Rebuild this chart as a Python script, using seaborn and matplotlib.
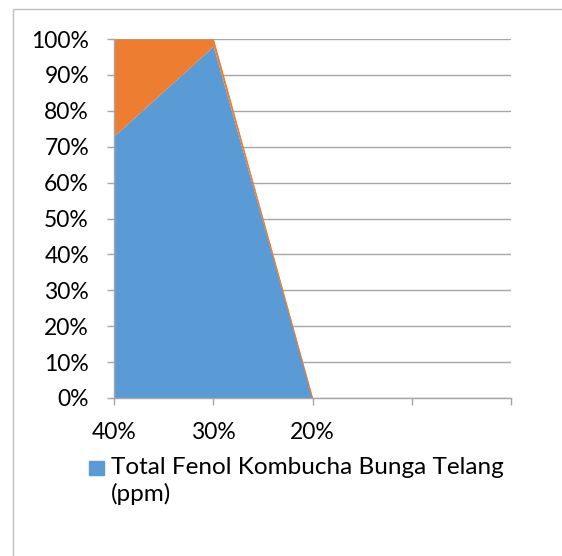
import matplotlib
matplotlib.use("Agg")
import matplotlib.pyplot as plt
from matplotlib.patches import Rectangle
import numpy as np
import pandas as pd
import seaborn as sns

# Category axis (concentration) and the two stacked series
categories = ["40%", "30%", "20%", "", ""]
total_fenol = [73, 98, 0, 0, 0]
second_series = [27, 2, 0, 0, 0]
legend_label = "Total Fenol Kombucha Bunga Telang"
legend_unit = "(ppm)"
y_ticks = [0, 10, 20, 30, 40, 50, 60, 70, 80, 90, 100]

BLUE = "#5B9BD5"
ORANGE = "#ED7D31"
GRID = "#A6A6A6"

sns.set_theme(style="white")
plt.rcParams["font.family"] = ["Lato", "DejaVu Sans"]

df = pd.DataFrame({"cat": categories, "fenol": total_fenol, "other": second_series})
totals = df[["fenol", "other"]].sum(axis=1).replace(0, np.nan)
df["fenol_pct"] = (df["fenol"] / totals * 100).fillna(0)
df["other_pct"] = (df["other"] / totals * 100).fillna(0)
df["top_pct"] = df["fenol_pct"] + df["other_pct"]
df["x"] = np.arange(len(df))

fig = plt.figure(figsize=(5.62, 5.56), dpi=100)
W, H = 562, 556
ax = fig.add_axes([114 / W, 1 - 398 / H, (511 - 114) / W, (398 - 39) / H])

ax.fill_between(df["x"], 0, df["fenol_pct"], color=BLUE, linewidth=0, zorder=2)
ax.fill_between(df["x"], df["fenol_pct"], df["top_pct"], color=ORANGE,
                linewidth=0, zorder=2)
# thin orange edge where the upper band has zero height
sns.lineplot(x=df["x"].iloc[1:3], y=df["top_pct"].iloc[1:3], ax=ax,
             color=ORANGE, linewidth=0.8, zorder=3)

ax.set_xlim(0, len(df) - 1)
ax.set_ylim(0, 100)
ax.set_xticks(df["x"])
ax.set_xticklabels(df["cat"])
ax.set_yticks(y_ticks)
ax.set_yticklabels([f"{v}%" for v in y_ticks])
ax.set_xlabel("")
ax.set_ylabel("")

ax.grid(axis="y", color=GRID, linewidth=1.0, zorder=1)
ax.grid(axis="x", visible=False)
ax.set_axisbelow(True)
for side in ("top", "right"):
    ax.spines[side].set_visible(False)
for side in ("left", "bottom"):
    ax.spines[side].set_color(GRID)
    ax.spines[side].set_linewidth(1.0)
    ax.spines[side].set_zorder(4)

ax.tick_params(axis="both", which="major", direction="out", length=5,
               width=1.0, color=GRID, labelsize=16.5, labelcolor="black",
               left=True, bottom=True)
ax.tick_params(axis="y", pad=13)
ax.tick_params(axis="x", pad=12)

# legend: square key and wrapped label
fig.add_artist(Rectangle((89 / W, 1 - 475 / H), 15 / W, 14 / H,
                         transform=fig.transFigure, color=BLUE))
fig.text(111 / W, 1 - 468 / H, legend_label, fontsize=17.5, va="center",
         ha="left", color="black")
fig.text(111 / W, 1 - 494 / H, legend_unit, fontsize=17.5, va="center",
         ha="left", color="black")

# chart frame
fig.add_artist(Rectangle((13 / W, -0.01), 1.02 - 13 / W, 1 - 9 / H + 0.01,
                         transform=fig.transFigure, fill=False,
                         edgecolor="#BFBFBF", linewidth=1.0))

fig.savefig("out.png", dpi=100)
